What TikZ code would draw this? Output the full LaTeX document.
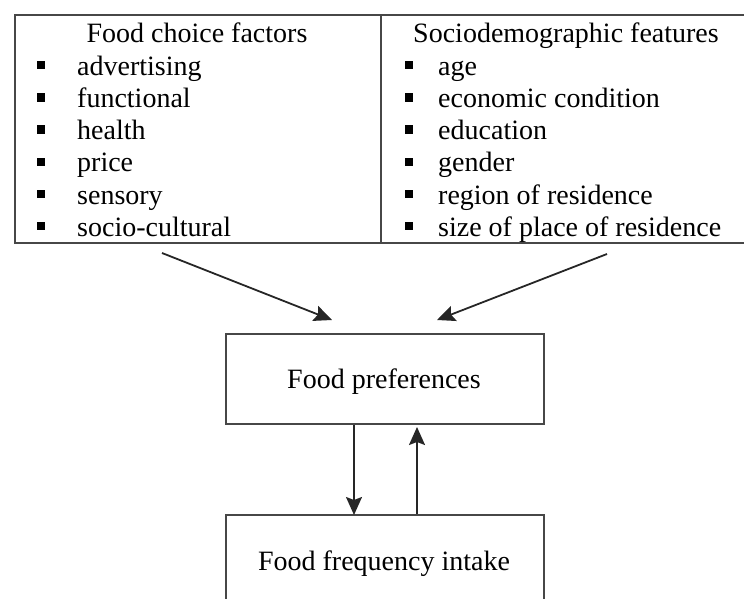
\documentclass[tikz,border=0pt]{standalone}
\usepackage{fontspec}
\setmainfont{Liberation Serif}
\usetikzlibrary{arrows.meta}
\begin{document}
\begin{tikzpicture}[x=1pt,y=-1pt,
  frame/.style={draw=black!72,line width=2pt,rectangle,inner sep=0pt,anchor=north west},
  txt/.style={anchor=base west,inner sep=0pt,font=\fontsize{28}{32}\selectfont},
  ttl/.style={anchor=base,inner sep=0pt,font=\fontsize{28}{32}\selectfont},
  bul/.style={fill=black,draw=none,minimum size=8.5pt,inner sep=0pt},
  arr/.style={draw=black!85,line width=1.8pt,-{Stealth[length=18pt,width=16pt,inset=3pt]}}]
\useasboundingbox (0,0) rectangle (744,599);

% table with the two lists of factors
\node[frame,minimum width=366pt,minimum height=228pt] (fcf) at (14,14) {};
\node[frame,minimum width=372pt,minimum height=228pt] (sdf) at (380,14) {};

\node[ttl] (fcft) at (197,43) {Food choice factors};
\node[ttl] (sdft) at (566,43) {Sociodemographic features};

\foreach \t [count=\i from 0] in {advertising,functional,health,price,sensory,socio-cultural}{
  \node[bul] (lb\i) at (41,43+32.2+32.2*\i-10) {};
  \node[txt] (lt\i) at (77,43+32.2+32.2*\i) {\t};
}
\foreach \t [count=\i from 0] in {age,economic condition,education,gender,region of residence,size of place of residence}{
  \node[bul] (rb\i) at (409,43+32.2+32.2*\i-10) {};
  \node[txt] (rt\i) at (438,43+32.2+32.2*\i) {\t};
}

% outcome boxes
\node[frame,minimum width=318pt,minimum height=90pt] (pref) at (225,333) {};
\node[ttl] (preft) at (384,388) {Food preferences};
\node[frame,minimum width=318pt,minimum height=120pt] (freq) at (225,514) {};
\node[ttl] (freqt) at (384,570) {Food frequency intake};

% connectors
\coordinate (l1) at (162,253);
\coordinate (l2) at (332,320);
\coordinate (r1) at (607,254);
\coordinate (r2) at (437,320);
\draw[arr] (l1) -- (l2);
\draw[arr] (r1) -- (r2);
\draw[arr] ([xshift=-31pt]pref.south) -- ([xshift=-31pt,yshift=-1pt]freq.north);
\draw[arr] ([xshift=32pt]freq.north) -- ([xshift=32pt,yshift=-2pt]pref.south);
\end{tikzpicture}
\end{document}
